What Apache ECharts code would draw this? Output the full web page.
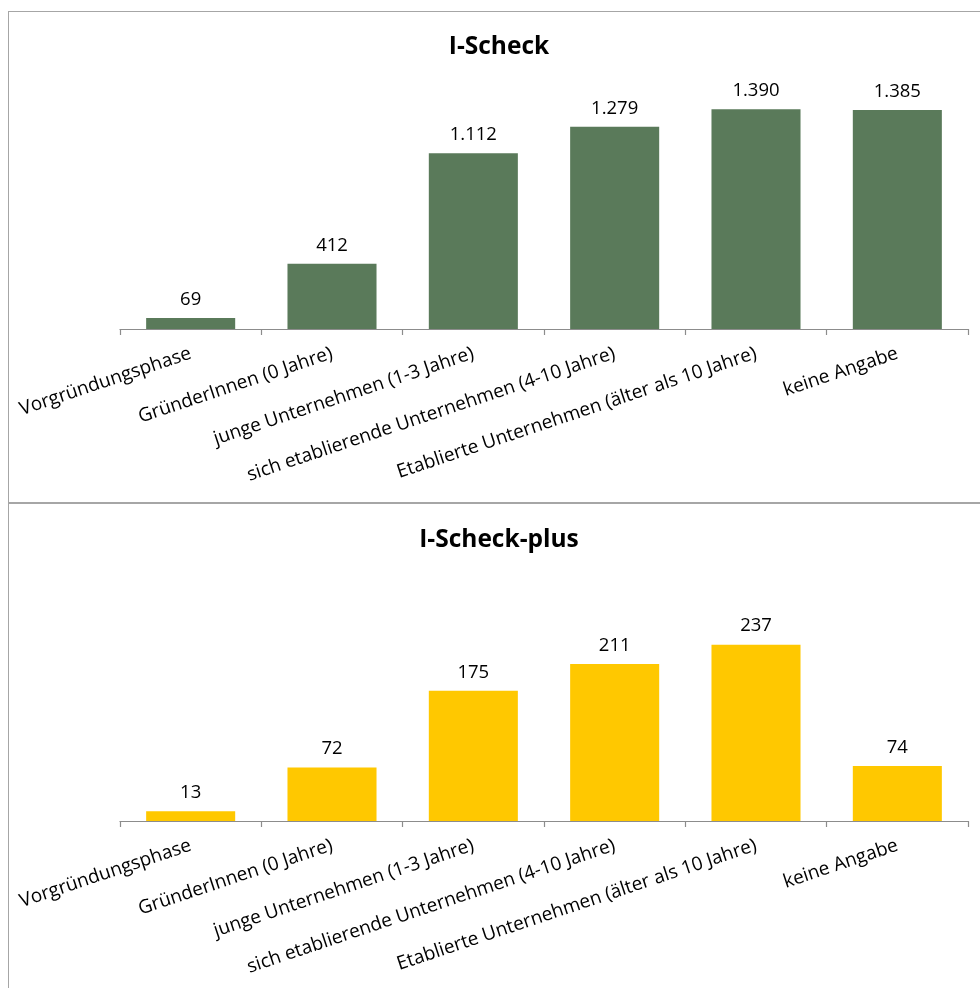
<!DOCTYPE html>
<html>
<head>
<meta charset="utf-8">
<script src="https://cdn.jsdelivr.net/npm/echarts@6/dist/echarts.min.js"></script>
<style>
html,body{margin:0;padding:0;width:980px;height:988px;overflow:hidden;background:#fff;}
.box{position:absolute;border:1.5px solid #a6a6a6;box-sizing:border-box;}
#chart{position:absolute;left:8px;top:0;width:982px;height:988px;}
</style>
</head>
<body>
<div class="box" style="left:8px;top:11px;width:990px;height:492px;"></div>
<div class="box" style="left:8px;top:503px;width:990px;height:500px;"></div>
<div id="chart"></div>
<script>
const categories = ['Vorgründungsphase','GründerInnen (0 Jahre)','junge Unternehmen (1-3 Jahre)','sich etablierende Unternehmen (4-10 Jahre)','Etablierte Unternehmen (älter als 10 Jahre)','keine Angabe'];
const iScheck = [69, 412, 1112, 1279, 1390, 1385];
const iScheckPlus = [13, 72, 175, 211, 237, 74];
const titles = ['I-Scheck','I-Scheck-plus'];

const fontFam = '"Open Sans", sans-serif';
const fmt = v => v.toLocaleString('de-DE');

function xAxis(gi){
  return {
    type:'category', gridIndex:gi, data:categories,
    axisLine:{lineStyle:{color:'#8c8c8c',width:1.2}},
    axisTick:{show:true,length:6,lineStyle:{color:'#8c8c8c',width:1.2}},
    axisLabel:{interval:0,rotate:18.5,fontSize:19,color:'#000',fontFamily:fontFam,margin:24}
  };
}
function yAxis(gi,max){
  return {type:'value',gridIndex:gi,min:0,max:max,show:false,splitLine:{show:false}};
}
function series(gi,data,color){
  return {
    type:'bar', xAxisIndex:gi, yAxisIndex:gi, data:data,
    barCategoryGap:'37%',
    itemStyle:{color:color},
    label:{show:true,position:'top',distance:9,fontSize:18.5,color:'#000',fontFamily:fontFam,formatter:p=>fmt(p.value)},
    animation:false
  };
}
const chart = echarts.init(document.getElementById('chart'));
chart.setOption({
  animation:false,
  title:[
    {text:titles[0],left:'center',top:30,textStyle:{fontSize:24.5,fontWeight:'bold',color:'#000',fontFamily:fontFam}},
    {text:titles[1],left:'center',top:523,textStyle:{fontSize:24.5,fontWeight:'bold',color:'#000',fontFamily:fontFam}}
  ],
  grid:[
    {left:112,right:22,top:76,height:253,outerBoundsMode:'none',containLabel:false},
    {left:112,right:22,top:568,height:253,outerBoundsMode:'none',containLabel:false}
  ],
  xAxis:[xAxis(0),xAxis(1)],
  yAxis:[yAxis(0,1600),yAxis(1,340)],
  series:[series(0,iScheck,'#5A7A5A'),series(1,iScheckPlus,'#FFC800')]
});
</script>
</body>
</html>
